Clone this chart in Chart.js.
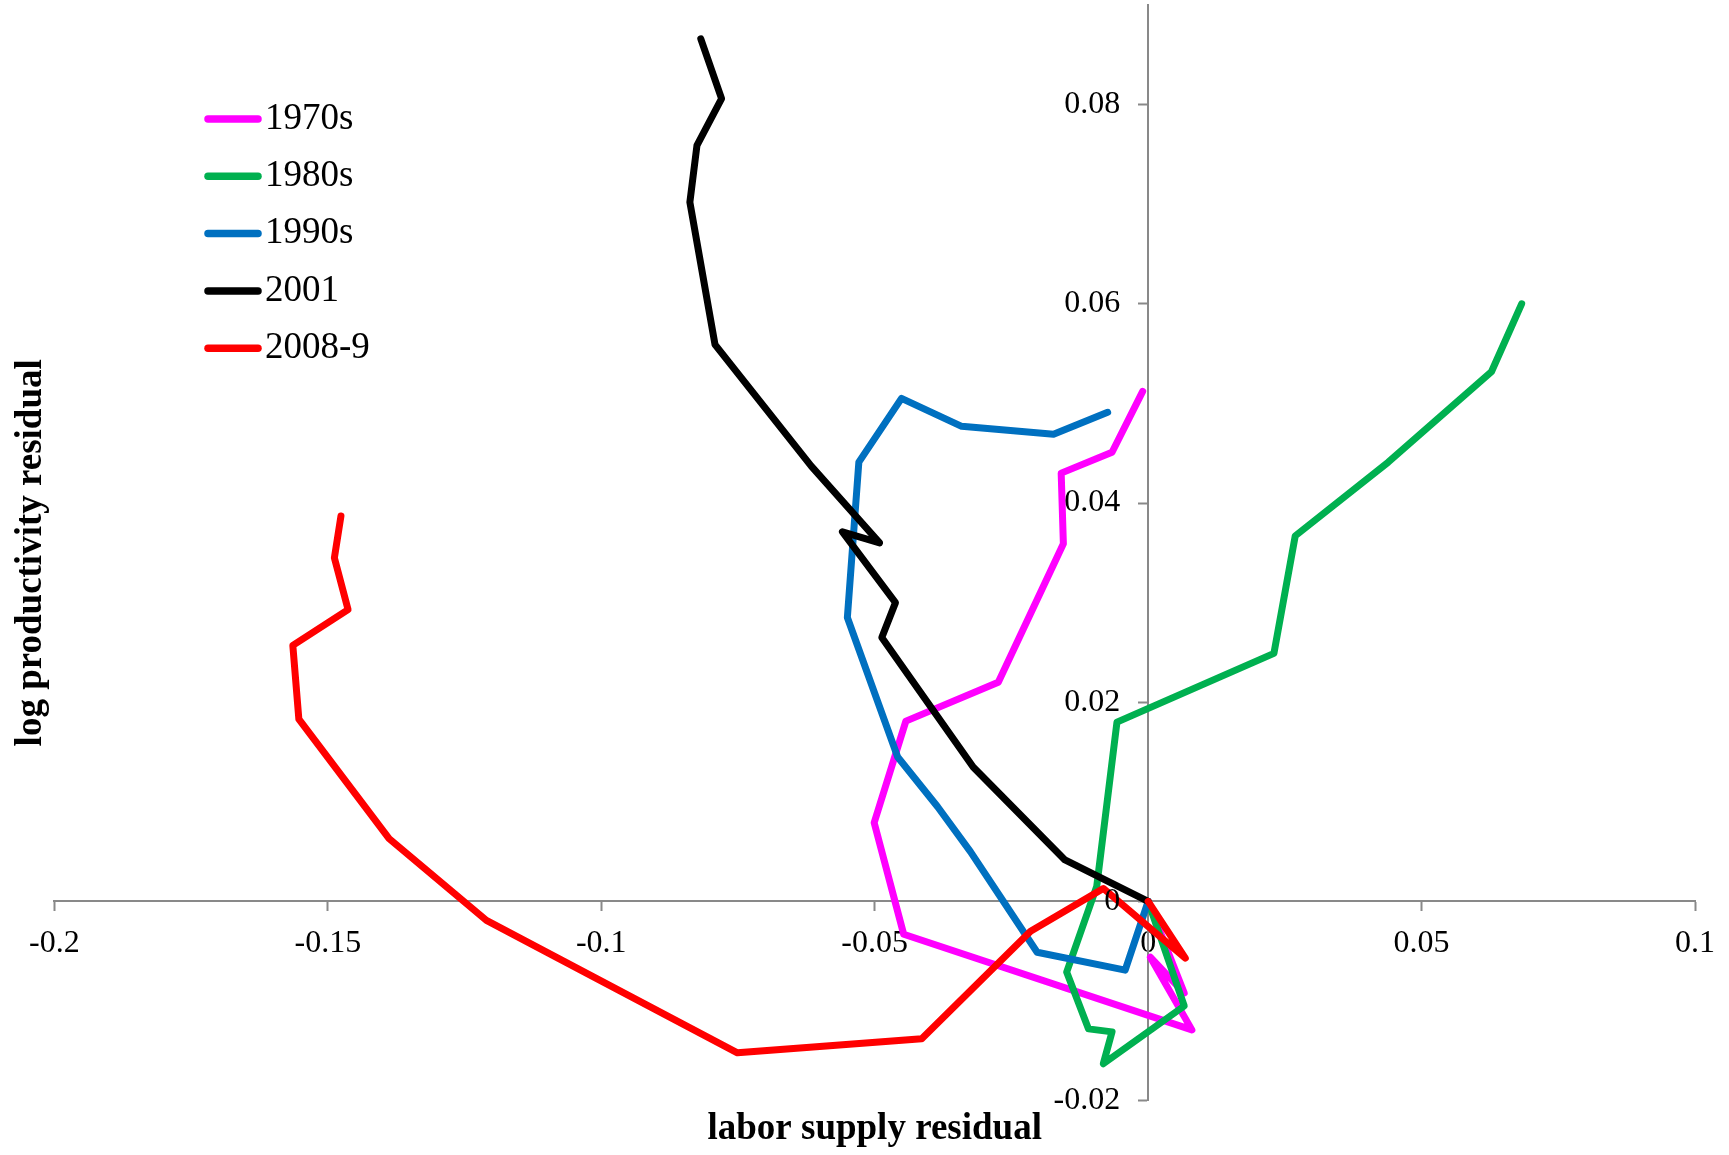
<!DOCTYPE html>
<html>
<head>
<meta charset="utf-8">
<title>Labor supply and productivity residuals by recession</title>
<script src="https://cdn.jsdelivr.net/npm/chart.js@4.4.1/dist/chart.umd.min.js"></script>
<style>
  html, body { margin: 0; padding: 0; background: #ffffff; }
  canvas { display: block; }
</style>
</head>
<body>
<canvas id="chart" width="1729" height="1155"></canvas>
<script>
// Recession episodes: labor supply residual (x) against log productivity residual (y)
const seriesNames  = ['1970s', '1980s', '1990s', '2001', '2008-9'];
const seriesColors = ['#FF00FF', '#00B050', '#0070C0', '#000000', '#FF0000'];

const labor1970s = [0, 0.0066, 0.0004, 0.0080, -0.0447, -0.0501, -0.0443, -0.0274, -0.0155, -0.0159, -0.0066, -0.0010];
const prod1970s  = [0, -0.0092, -0.0056, -0.0129, -0.0033, 0.0079, 0.0181, 0.0220, 0.0359, 0.0430, 0.0451, 0.0512];

const labor1980s = [0, 0.0066, -0.0082, -0.0066, -0.0109, -0.0149, -0.0094, -0.0057, 0.0230, 0.0269, 0.0439, 0.0628, 0.0683];
const prod1980s  = [0, -0.0105, -0.0163, -0.0131, -0.0128, -0.0071, 0.0015, 0.0180, 0.0249, 0.0367, 0.0441, 0.0532, 0.0600];

const labor1990s = [0, -0.0042, -0.0203, -0.0325, -0.0385, -0.0458, -0.0550, -0.0529, -0.0451, -0.0341, -0.0173, -0.0074];
const prod1990s  = [0, -0.0069, -0.0051, 0.0050, 0.0095, 0.0145, 0.0285, 0.0441, 0.0505, 0.0477, 0.0469, 0.0491];

const labor2001 = [0, -0.0153, -0.0320, -0.0487, -0.0462, -0.0559, -0.0491, -0.0616, -0.0792, -0.0838, -0.0825, -0.0780, -0.0818];
const prod2001  = [0, 0.0042, 0.0135, 0.0265, 0.0300, 0.0371, 0.0360, 0.0437, 0.0559, 0.0702, 0.0759, 0.0806, 0.0866];

const labor2008 = [0, 0.0068, -0.0082, -0.0215, -0.0414, -0.0751, -0.1210, -0.1388, -0.1553, -0.1564, -0.1463, -0.1488, -0.1476];
const prod2008  = [0, -0.0057, 0.0013, -0.0030, -0.0138, -0.0152, -0.0019, 0.0063, 0.0183, 0.0257, 0.0293, 0.0345, 0.0387];

const xTickValues = [-0.2, -0.15, -0.1, -0.05, 0, 0.05, 0.1];
const xTickLabels = ['-0.2', '-0.15', '-0.1', '-0.05', '0', '0.05', '0.1'];
const yTickValues = [-0.02, 0, 0.02, 0.04, 0.06, 0.08];
const yTickLabels = ['-0.02', '0', '0.02', '0.04', '0.06', '0.08'];

const laborSeries = [labor1970s, labor1980s, labor1990s, labor2001, labor2008];
const prodSeries  = [prod1970s, prod1980s, prod1990s, prod2001, prod2008];

const SERIF = '"Liberation Serif", "Times New Roman", serif';
const AXIS_GREY = '#898989';
const TICK_LEN = 9;

const datasets = seriesNames.map((name, i) => ({
  label: name,
  data: laborSeries[i].map((x, k) => ({ x: x, y: prodSeries[i][k] })),
  showLine: true,
  borderColor: seriesColors[i],
  backgroundColor: seriesColors[i],
  borderWidth: 7,
  borderCapStyle: 'round',
  borderJoinStyle: 'round',
  pointRadius: 0,
  pointHoverRadius: 0,
  tension: 0,
  // later episodes are painted over earlier ones
  order: seriesNames.length - i
}));

// Key drawn inside the plot, top-left, in dataset order
const seriesKey = {
  id: 'seriesKey',
  afterDraw(chart, args, opts) {
    const ctx = chart.ctx;
    ctx.save();
    ctx.font = opts.fontSize + 'px ' + SERIF;
    ctx.textBaseline = 'middle';
    ctx.textAlign = 'left';
    chart.data.datasets.forEach((ds, i) => {
      const y = opts.top + i * opts.rowGap;
      ctx.strokeStyle = ds.borderColor;
      ctx.lineWidth = opts.lineWidth;
      ctx.lineCap = 'round';
      ctx.beginPath();
      ctx.moveTo(opts.left, y);
      ctx.lineTo(opts.left + opts.lineLength, y);
      ctx.stroke();
      ctx.fillStyle = '#000000';
      ctx.fillText(ds.label, opts.textX, y);
    });
    ctx.restore();
  }
};

// Value labels for the vertical axis, set left of the axis line that crosses at x = 0
const yAxisLabels = {
  id: 'yAxisLabels',
  afterDraw(chart, args, opts) {
    const { x: xs, y: ys } = chart.scales;
    const ctx = chart.ctx;
    const right = xs.getPixelForValue(0) - TICK_LEN - opts.gap;
    ctx.save();
    ctx.font = opts.fontSize + 'px ' + SERIF;
    ctx.fillStyle = '#000000';
    ctx.textAlign = 'right';
    ctx.textBaseline = 'middle';
    yTickValues.forEach((v, i) => {
      ctx.fillText(yTickLabels[i], right, ys.getPixelForValue(v));
    });
    ctx.restore();
  }
};

const zeroPadding = scale => {
  scale.paddingLeft = 0; scale.paddingRight = 0;
  scale.paddingTop = 0; scale.paddingBottom = 0;
};

new Chart(document.getElementById('chart'), {
  type: 'scatter',
  data: { datasets: datasets },
  plugins: [seriesKey, yAxisLabels],
  options: {
    responsive: false,
    animation: false,
    events: [],
    layout: { padding: { left: 0, right: 34, top: 5, bottom: 0 } },
    scales: {
      x: {
        type: 'linear',
        min: -0.2,
        max: 0.1,
        position: { y: 0 },
        afterBuildTicks: s => { s.ticks = xTickValues.map(v => ({ value: v })); },
        afterFit: zeroPadding,
        ticks: {
          autoSkip: false,
          maxRotation: 0,
          padding: 14,
          color: '#000000',
          font: { family: SERIF, size: 32 },
          callback: (v) => xTickLabels[xTickValues.findIndex(t => Math.abs(t - v) < 1e-9)]
        },
        grid: { drawOnChartArea: false, drawTicks: true, tickLength: TICK_LEN, tickColor: AXIS_GREY, tickWidth: 2 },
        border: { display: true, color: AXIS_GREY, width: 2 }
      },
      y: {
        type: 'linear',
        min: -0.02,
        max: 0.09,
        position: { x: 0 },
        afterBuildTicks: s => { s.ticks = yTickValues.map(v => ({ value: v })); },
        afterFit: zeroPadding,
        ticks: { display: false, autoSkip: false },
        grid: { drawOnChartArea: false, drawTicks: true, tickLength: TICK_LEN, tickColor: AXIS_GREY, tickWidth: 2 },
        border: { display: true, color: AXIS_GREY, width: 2 }
      }
    },
    plugins: {
      legend: { display: false },
      tooltip: { enabled: false },
      title: {
        display: true,
        text: 'labor supply residual',
        position: 'bottom',
        fullSize: false,
        color: '#000000',
        font: { family: SERIF, size: 37, weight: 'bold', lineHeight: 1.2 },
        padding: { top: 7, bottom: 3 }
      },
      subtitle: {
        display: true,
        text: 'log productivity residual',
        position: 'left',
        fullSize: false,
        color: '#000000',
        font: { family: SERIF, size: 37, weight: 'bold', lineHeight: 1.2 },
        padding: { top: 9, bottom: 1 }
      },
      seriesKey: {
        left: 208,
        lineLength: 50,
        lineWidth: 7.5,
        textX: 265,
        top: 119,
        rowGap: 57.3,
        fontSize: 37
      },
      yAxisLabels: { gap: 19, fontSize: 32 }
    }
  }
});
</script>
</body>
</html>
